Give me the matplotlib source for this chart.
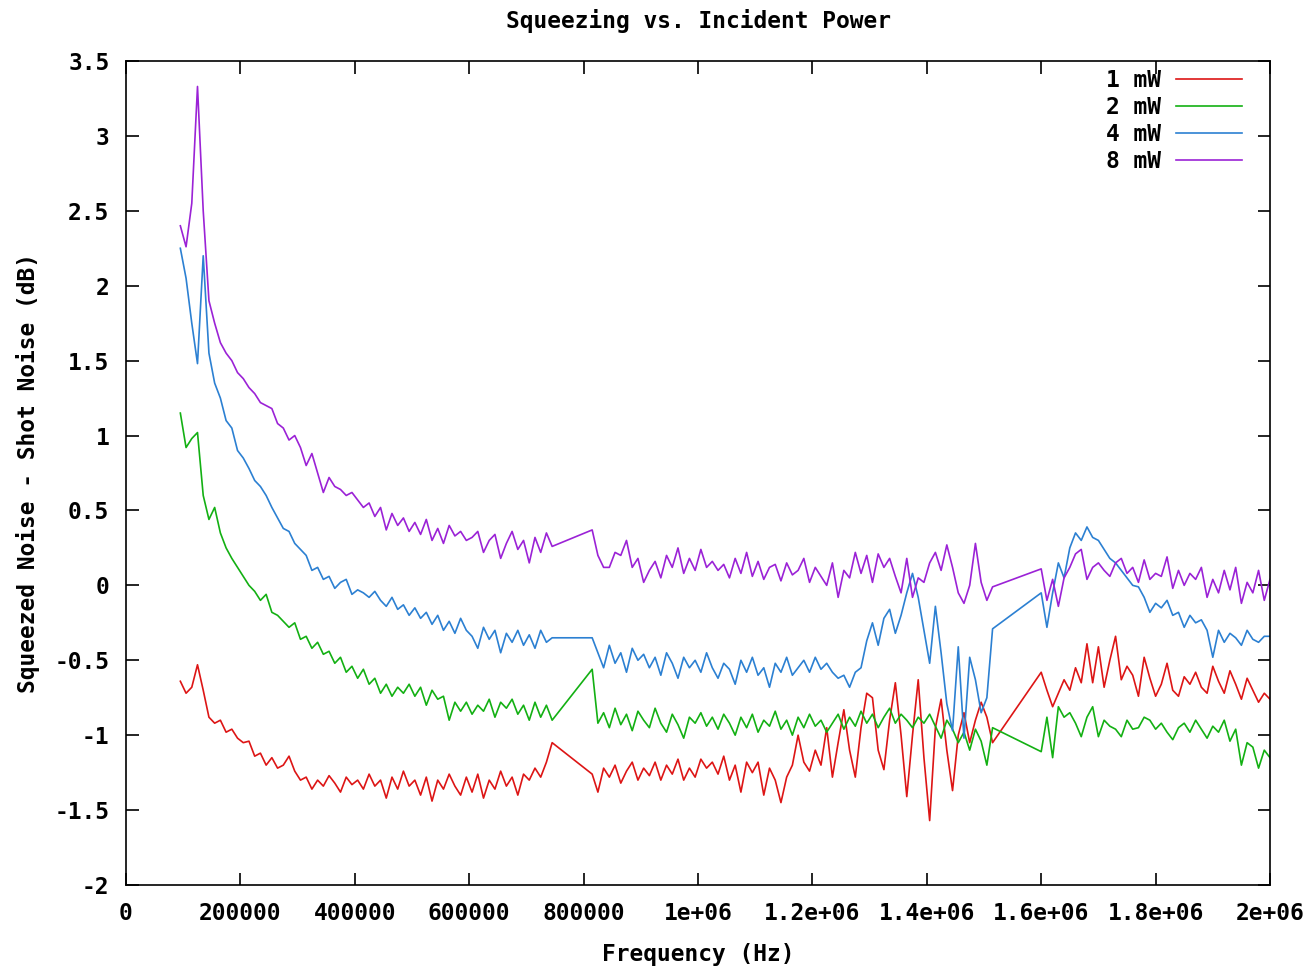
import numpy as np
import matplotlib
matplotlib.use("Agg")
import matplotlib.pyplot as plt

# frequency grid (Hz); the trace has two holes where no data were taken
freq = np.concatenate([np.arange(95e3, 746e3, 10e3),
                       np.arange(815e3, 1516e3, 10e3),
                       np.arange(1600e3, 2001e3, 10e3)])

p1mw = [
    -0.64, -0.72, -0.68, -0.53, -0.70, -0.88, -0.92, -0.90, -0.98, -0.96,
    -1.02, -1.05, -1.04, -1.14, -1.12, -1.20, -1.15, -1.22, -1.20, -1.14,
    -1.24, -1.30, -1.28, -1.36, -1.30, -1.34, -1.27, -1.32, -1.38, -1.28,
    -1.33, -1.30, -1.36, -1.26, -1.34, -1.30, -1.42, -1.28, -1.36, -1.24,
    -1.34, -1.30, -1.40, -1.28, -1.44, -1.30, -1.36, -1.26, -1.34, -1.40,
    -1.28, -1.38, -1.26, -1.42, -1.30, -1.36, -1.24, -1.34, -1.28, -1.40,
    -1.26, -1.30, -1.22, -1.28, -1.18, -1.05,
    -1.26, -1.38, -1.22, -1.28, -1.20, -1.32, -1.24, -1.18, -1.30, -1.22,
    -1.27, -1.18, -1.30, -1.20, -1.26, -1.16, -1.30, -1.22, -1.28, -1.16,
    -1.22, -1.18, -1.26, -1.14, -1.30, -1.20, -1.38, -1.18, -1.25, -1.18,
    -1.40, -1.22, -1.30, -1.45, -1.28, -1.20, -1.00, -1.18, -1.24, -1.10,
    -1.20, -0.95, -1.28, -1.05, -0.83, -1.10, -1.28, -0.95, -0.72, -0.75,
    -1.10, -1.23, -0.90, -0.65, -1.00, -1.41, -1.00, -0.63, -1.15, -1.57,
    -0.95, -0.76, -1.10, -1.37, -1.00, -0.85, -1.05, -0.90, -0.78, -0.88,
    -1.05,
    -0.58, -0.70, -0.81, -0.72, -0.63, -0.70, -0.55, -0.65, -0.39, -0.65,
    -0.41, -0.68, -0.50, -0.34, -0.63, -0.54, -0.60, -0.74, -0.48, -0.62,
    -0.74, -0.66, -0.52, -0.70, -0.74, -0.61, -0.66, -0.58, -0.68, -0.72,
    -0.54, -0.64, -0.72, -0.57, -0.66, -0.76, -0.62, -0.70, -0.78, -0.72,
    -0.76,
]

p2mw = [
    1.15, 0.92, 0.98, 1.02, 0.60, 0.44, 0.52, 0.35, 0.25, 0.18,
    0.12, 0.06, 0.00, -0.04, -0.10, -0.06, -0.18, -0.20, -0.24, -0.28,
    -0.25, -0.36, -0.34, -0.42, -0.38, -0.46, -0.44, -0.52, -0.48, -0.58,
    -0.54, -0.62, -0.56, -0.66, -0.62, -0.72, -0.66, -0.74, -0.68, -0.72,
    -0.66, -0.74, -0.68, -0.80, -0.70, -0.76, -0.74, -0.90, -0.78, -0.84,
    -0.78, -0.86, -0.80, -0.84, -0.76, -0.88, -0.78, -0.82, -0.76, -0.86,
    -0.80, -0.90, -0.78, -0.88, -0.80, -0.90,
    -0.56, -0.92, -0.85, -0.95, -0.82, -0.93, -0.86, -0.97, -0.84, -0.90,
    -0.95, -0.82, -0.92, -0.98, -0.86, -0.93, -1.02, -0.88, -0.92, -0.85,
    -0.94, -0.88, -0.96, -0.86, -0.92, -1.00, -0.88, -0.95, -0.86, -0.98,
    -0.90, -0.94, -0.84, -0.96, -0.90, -1.00, -0.88, -0.95, -0.86, -0.94,
    -0.90, -0.98, -0.92, -0.86, -0.96, -0.88, -0.94, -0.84, -0.92, -0.86,
    -0.95, -0.88, -0.82, -0.92, -0.86, -0.90, -0.95, -0.88, -0.92, -0.86,
    -0.94, -1.02, -0.90, -0.96, -1.05, -0.98, -1.10, -0.96, -1.04, -1.20,
    -0.95,
    -1.11, -0.88, -1.15, -0.81, -0.88, -0.85, -0.92, -1.01, -0.88, -0.81,
    -1.01, -0.90, -0.94, -0.96, -1.01, -0.90, -0.96, -0.95, -0.88, -0.90,
    -0.96, -0.92, -0.98, -1.03, -0.95, -0.92, -0.98, -0.90, -0.96, -1.02,
    -0.94, -0.98, -0.90, -1.04, -0.96, -1.20, -1.05, -1.08, -1.22, -1.10,
    -1.15,
]

p4mw = [
    2.25, 2.05, 1.75, 1.48, 2.20, 1.55, 1.35, 1.25, 1.10, 1.05,
    0.90, 0.85, 0.78, 0.70, 0.66, 0.60, 0.52, 0.45, 0.38, 0.36,
    0.28, 0.24, 0.20, 0.10, 0.12, 0.04, 0.06, -0.02, 0.02, 0.04,
    -0.06, -0.03, -0.05, -0.08, -0.04, -0.10, -0.14, -0.08, -0.16, -0.13,
    -0.20, -0.15, -0.22, -0.18, -0.26, -0.20, -0.30, -0.24, -0.32, -0.22,
    -0.30, -0.34, -0.42, -0.28, -0.36, -0.30, -0.45, -0.32, -0.38, -0.30,
    -0.40, -0.33, -0.42, -0.30, -0.38, -0.35,
    -0.35, -0.45, -0.55, -0.40, -0.52, -0.45, -0.58, -0.42, -0.50, -0.46,
    -0.55, -0.48, -0.60, -0.45, -0.52, -0.62, -0.48, -0.55, -0.50, -0.58,
    -0.45, -0.55, -0.62, -0.52, -0.56, -0.66, -0.50, -0.58, -0.48, -0.60,
    -0.55, -0.68, -0.52, -0.58, -0.48, -0.60, -0.55, -0.50, -0.58, -0.48,
    -0.56, -0.52, -0.58, -0.62, -0.60, -0.68, -0.58, -0.55, -0.37, -0.25,
    -0.40, -0.22, -0.16, -0.32, -0.20, -0.05, 0.08, -0.08, -0.30, -0.52,
    -0.14, -0.45, -0.79, -0.97, -0.41, -1.02, -0.48, -0.63, -0.85, -0.75,
    -0.29,
    -0.05, -0.28, -0.05, 0.15, 0.05, 0.25, 0.35, 0.30, 0.39, 0.32,
    0.30, 0.24, 0.18, 0.15, 0.10, 0.05, 0.00, -0.01, -0.08, -0.18,
    -0.12, -0.15, -0.10, -0.20, -0.18, -0.28, -0.20, -0.25, -0.23, -0.30,
    -0.48, -0.30, -0.38, -0.32, -0.35, -0.40, -0.30, -0.36, -0.38, -0.34,
    -0.34,
]

p8mw = [
    2.40, 2.26, 2.55, 3.33, 2.50, 1.90, 1.75, 1.62, 1.55, 1.50,
    1.42, 1.38, 1.32, 1.28, 1.22, 1.20, 1.18, 1.08, 1.05, 0.97,
    1.00, 0.92, 0.80, 0.88, 0.75, 0.62, 0.72, 0.66, 0.64, 0.60,
    0.62, 0.57, 0.52, 0.55, 0.46, 0.52, 0.37, 0.48, 0.40, 0.45,
    0.36, 0.42, 0.34, 0.44, 0.30, 0.38, 0.28, 0.40, 0.33, 0.36,
    0.30, 0.32, 0.36, 0.22, 0.30, 0.34, 0.18, 0.28, 0.36, 0.24,
    0.30, 0.15, 0.32, 0.22, 0.35, 0.26,
    0.37, 0.20, 0.12, 0.12, 0.22, 0.20, 0.30, 0.12, 0.18, 0.02,
    0.10, 0.16, 0.05, 0.20, 0.12, 0.25, 0.08, 0.18, 0.10, 0.24,
    0.12, 0.16, 0.10, 0.14, 0.05, 0.18, 0.08, 0.22, 0.06, 0.16,
    0.04, 0.12, 0.14, 0.03, 0.15, 0.07, 0.10, 0.18, 0.02, 0.12,
    0.06, 0.00, 0.15, -0.08, 0.10, 0.05, 0.22, 0.08, 0.20, 0.02,
    0.21, 0.12, 0.18, 0.06, -0.05, 0.18, -0.08, 0.05, 0.02, 0.15,
    0.22, 0.10, 0.27, 0.12, -0.05, -0.12, 0.00, 0.28, 0.02, -0.10,
    -0.01,
    0.11, -0.10, 0.04, -0.14, 0.05, 0.12, 0.21, 0.24, 0.04, 0.12,
    0.15, 0.10, 0.06, 0.15, 0.18, 0.08, 0.12, 0.02, 0.17, 0.04,
    0.08, 0.06, 0.19, -0.02, 0.10, 0.00, 0.08, 0.04, 0.12, -0.08,
    0.04, -0.05, 0.10, -0.03, 0.12, -0.12, 0.02, -0.05, 0.10, -0.10,
    0.04,
]

labels = ["1 mW", "2 mW", "4 mW", "8 mW"]
colors = ["#dd1515", "#13b013", "#2c80d2", "#9b22d6"]

xticks = np.arange(0, 2.0e6 + 1, 2e5)
xticklabels = ["0", "200000", "400000", "600000", "800000", "1e+06",
               "1.2e+06", "1.4e+06", "1.6e+06", "1.8e+06", "2e+06"]
yticks = np.arange(-2, 3.51, 0.5)
yticklabels = ["-2", "-1.5", "-1", "-0.5", "0", "0.5", "1", "1.5",
               "2", "2.5", "3", "3.5"]

fs = 16.5
plt.rcParams["font.family"] = "DejaVu Sans Mono"
plt.rcParams["font.weight"] = "bold"

fig = plt.figure(figsize=(13.16, 9.66), dpi=100)
ax = fig.add_axes([126 / 1316, 81 / 966, 1144 / 1316, 824 / 966])

for ys, lab, c in zip([p1mw, p2mw, p4mw, p8mw], labels, colors):
    assert len(ys) == len(freq)
    ax.plot(freq, ys, color=c, lw=1.2, label=lab)

ax.set_xlim(0, 2e6)
ax.set_ylim(-2, 3.5)
ax.set_xticks(xticks)
ax.set_xticklabels(xticklabels)
ax.set_yticks(yticks)
ax.set_yticklabels(yticklabels)
ax.tick_params(direction="in", length=9, width=1.2, top=True, right=True,
               labelsize=fs)
ax.tick_params(axis="x", pad=12)
ax.tick_params(axis="y", pad=12)
for sp in ax.spines.values():
    sp.set_linewidth(1.2)

ax.set_title("Squeezing vs. Incident Power", fontsize=fs, fontweight="bold", pad=24)
ax.set_xlabel("Frequency (Hz)", fontsize=fs, fontweight="bold", labelpad=13)
ax.set_ylabel("Squeezed Noise - Shot Noise (dB)", fontsize=fs, fontweight="bold", labelpad=10)

ax.legend(loc="upper right", bbox_to_anchor=(0.9755, 0.9897), frameon=False,
          markerfirst=False, handlelength=2.9, handletextpad=0.65,
          labelspacing=0.17, fontsize=fs, borderaxespad=0, borderpad=0)

fig.savefig("out.png", dpi=100)
